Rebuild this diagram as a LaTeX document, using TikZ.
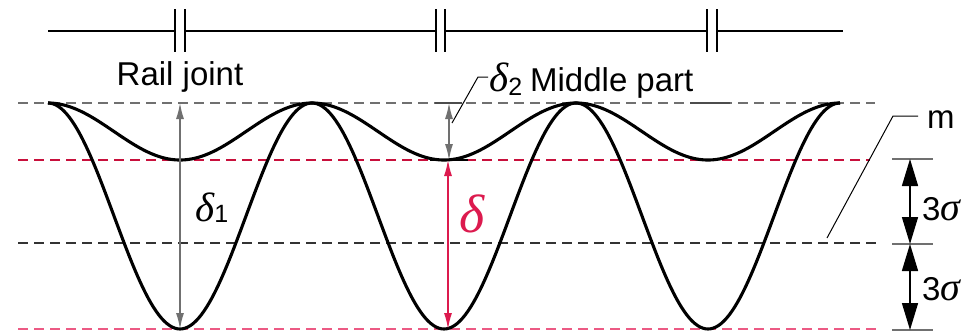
\documentclass[tikz,border=0pt]{standalone}
\usepackage{fontspec}
\setmainfont{Liberation Sans}
\newfontfamily\grk{Liberation Serif}
\usetikzlibrary{arrows.meta}
\definecolor{dgray}{HTML}{707070}
\definecolor{crim}{HTML}{C8103C}
\definecolor{pinkl}{HTML}{EC5A84}
\definecolor{dred}{HTML}{DC1A4E}
\begin{document}
\begin{tikzpicture}[x=1pt,y=-1pt,
  dashline/.style={line width=1.3pt, dash pattern=on 10pt off 6pt},
  curve/.style={line width=3.1pt, black, line join=round},
  rail/.style={line width=2.6pt, black},
  thinarr/.style={line width=1.4pt, {Latex[length=16pt,width=8pt]}-{Latex[length=16pt,width=8pt]}},
  bigarr/.style={line width=1.5pt, black, {Triangle[length=27pt,width=16pt]}-{Triangle[length=27pt,width=16pt]}},
  tickline/.style={line width=1.5pt, dgray},
  leader/.style={line width=1pt, black},
  lbl/.style={inner sep=0pt, font=\fontsize{33}{38}\selectfont},
  grkfont/.style={font=\fontsize{41}{46}\selectfont}
]
\useasboundingbox (0,0) rectangle (980,333);

% dashed reference lines
\draw[dashline, dgray] (18,103) -- (875,103);
\draw[dashline, crim] (18,160) -- (870,160);
\draw[dashline, black!80] (18,243) -- (877,243);
\draw[dashline, pinkl] (18,329) -- (877,329);

% short ticks
\draw[line width=2pt, black!70] (435,103) -- (462,103);
\draw[line width=2pt, black!70] (690,103) -- (730,103);
\draw[line width=2pt, black] (430,160) -- (468,160);

% rail
\draw[rail] (48,31) -- (175,31);
\draw[rail] (185,31) -- (436,31);
\draw[rail] (445,31) -- (707,31);
\draw[rail] (717,31) -- (843,31);
\foreach \bx in {175,185,436,445,707,717} \draw[rail] (\bx,9) -- (\bx,52);

% curves
\draw[curve] plot[domain=48:840, samples=301] (\x, {103+28.5*(1-cos(((\x-48)/132)*180))});
\draw[curve] plot[domain=48:840, samples=301] (\x, {103+113*(1-cos(((\x-48)/132)*180))});

% delta arrows
\coordinate (d1t) at (180,103); \coordinate (d1b) at (180,329);
\draw[thinarr, dgray] (d1t) -- (d1b);
\coordinate (d2t) at (449,103); \coordinate (d2b) at (449,160);
\draw[thinarr, dgray] (d2t) -- (d2b);
\coordinate (dt) at (448,160); \coordinate (db) at (448,329);
\draw[thinarr, dred] (dt) -- (db);

% 3 sigma dimension
\coordinate (s1) at (910,159); \coordinate (s2) at (910,244); \coordinate (s3) at (910,330);
\draw[tickline] (892,159) -- (933,159);
\draw[tickline] (892,244) -- (933,244);
\draw[tickline] (892,330) -- (933,330);
\draw[bigarr] (s1) -- (s2);
\draw[bigarr] (s2) -- (s3);

% leaders
\coordinate (l2a) at (452,123); \coordinate (l2b) at (478,77); \coordinate (l2c) at (488,77);
\draw[leader] (l2a) -- (l2b) -- (l2c);
\coordinate (lma) at (827,238); \coordinate (lmb) at (893,116); \coordinate (lmc) at (918,116);
\draw[leader] (lma) -- (lmb) -- (lmc);

% labels
\node[lbl, anchor=base] (rj) at (180,85) {Rail joint};
\node[lbl, anchor=base west] (mp) at (489,91) {{\fontsize{41}{46}\selectfont\grk\itshape δ}\raisebox{-4pt}{\fontsize{25}{25}\selectfont 2}\hspace{8pt}Middle part};
\node[lbl, anchor=base west] (d1) at (195,221) {{\fontsize{41}{46}\selectfont\grk\itshape δ}\raisebox{-1pt}{\fontsize{25}{25}\selectfont 1}};
\node[lbl, anchor=base west, text=dred, font=\fontsize{54}{58}\selectfont] (dl) at (459,232) {\grk\itshape δ};
\node[lbl, anchor=base west] (m) at (927,128) {m};
\node[lbl, anchor=base west] (sg1) at (922,220) {3{\fontsize{40}{44}\selectfont\grk\itshape σ}};
\node[lbl, anchor=base west] (sg2) at (922,300) {3{\fontsize{40}{44}\selectfont\grk\itshape σ}};
\end{tikzpicture}
\end{document}
